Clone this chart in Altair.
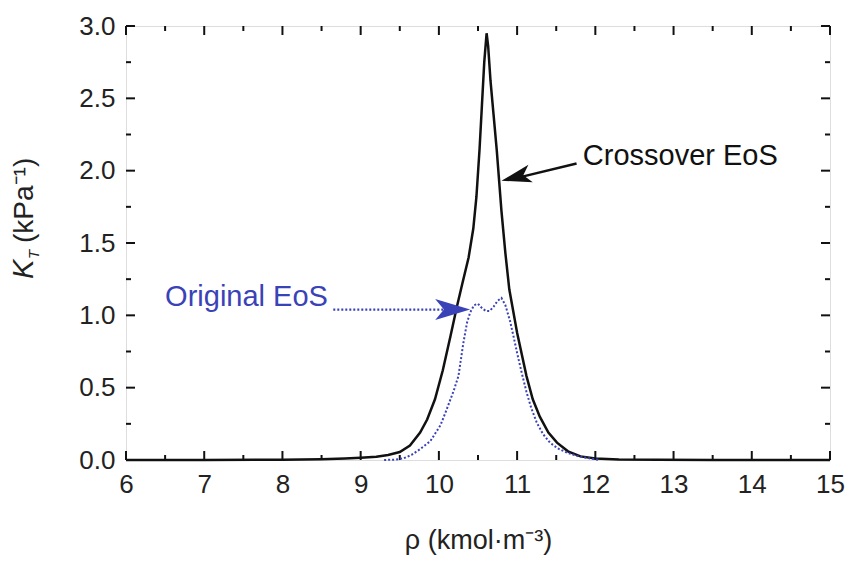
import altair as alt
import pandas as pd

# ---- data ----
crossover_rho = [6.0, 7.0, 8.0, 8.5, 8.8, 9.0, 9.2, 9.35, 9.5, 9.63, 9.76, 9.85, 9.95, 10.05, 10.15,
                 10.23, 10.30, 10.38, 10.44, 10.48, 10.52, 10.55, 10.58, 10.61, 10.63, 10.66, 10.70,
                 10.74, 10.80, 10.85, 10.90, 11.00, 11.12, 11.20, 11.29, 11.40, 11.51, 11.65, 11.81,
                 12.0, 12.3, 12.8, 13.5, 15.0]
crossover_kt = [0.0, 0.0, 0.002, 0.005, 0.01, 0.015, 0.022, 0.035, 0.055, 0.10, 0.19, 0.28, 0.42, 0.62,
                0.86, 1.06, 1.22, 1.40, 1.60, 1.82, 2.15, 2.45, 2.75, 2.95, 2.86, 2.62, 2.38, 2.14,
                1.72, 1.43, 1.18, 0.88, 0.58, 0.42, 0.30, 0.19, 0.12, 0.06, 0.025, 0.01, 0.004,
                0.001, 0.0, 0.0]

original_rho = [9.3, 9.45, 9.55, 9.65, 9.76, 9.89, 10.02, 10.10, 10.19, 10.25, 10.31, 10.36, 10.40,
                10.45, 10.50, 10.55, 10.60, 10.65, 10.70, 10.75, 10.80, 10.85, 10.91, 10.96, 11.00,
                11.06, 11.12, 11.18, 11.25, 11.33, 11.42, 11.52, 11.64, 11.76, 11.89, 12.05]
original_kt = [0.0, 0.003, 0.012, 0.035, 0.075, 0.13, 0.24, 0.35, 0.48, 0.58, 0.80, 0.95, 1.02,
               1.07, 1.08, 1.05, 1.03, 1.03, 1.06, 1.10, 1.12, 1.07, 0.96, 0.84, 0.74, 0.60, 0.47,
               0.36, 0.26, 0.18, 0.12, 0.08, 0.05, 0.03, 0.015, 0.0]

x_ticks = [6, 7, 8, 9, 10, 11, 12, 13, 14, 15]
x_minor = [6.5, 7.5, 8.5, 9.5, 10.5, 11.5, 12.5, 13.5, 14.5]
y_ticks = [0.0, 0.5, 1.0, 1.5, 2.0, 2.5, 3.0]
y_minor = [0.25, 0.75, 1.25, 1.75, 2.25, 2.75]

label_text = ["Crossover EoS", "Original EoS"]
label_rho = [11.84, 6.50]
label_kt = [2.10, 1.13]

# arrows: start point, end of shaft, tip
arrow_name = ["Crossover EoS", "Original EoS"]
arrow_rho_start = [11.76, 8.65]
arrow_kt_start = [2.05, 1.04]
arrow_rho_end = [11.00, 10.10]
arrow_kt_end = [1.95, 1.04]
arrow_rho_tip = [10.80, 10.40]
arrow_kt_tip = [1.93, 1.04]

BLACK = "#111111"
BLUE = "#3a42b8"
FONT = "Liberation Sans"
W, H = 704, 434

xs = alt.Scale(domain=[6, 15], nice=False, zero=False)
ys = alt.Scale(domain=[0, 3], nice=False, zero=False)

xaxis = alt.Axis(values=x_ticks, format="d", labelFontSize=26, labelPadding=11, labelFlush=False,
                 labelOverlap=False, ticks=False, tickSize=0, domain=False, grid=False,
                 labelColor="#222222", labelFont=FONT,
                 title="ρ (kmol·m⁻³)", titleFont=FONT, titleFontSize=27, titleFontWeight="normal",
                 titleColor="#222222", titleBaseline="middle", titleY=80)
yaxis = alt.Axis(values=y_ticks, format=".1f", labelFontSize=26, labelPadding=11, labelFlush=False,
                 labelOverlap=False, ticks=False, tickSize=0, domain=False, grid=False,
                 labelColor="#222222", labelFont=FONT, title=None)

cross_df = pd.DataFrame({"rho": crossover_rho, "kt": crossover_kt})
orig_df = pd.DataFrame({"rho": original_rho, "kt": original_kt})

cross = alt.Chart(cross_df).mark_line(color=BLACK, strokeWidth=2.5).encode(
    x=alt.X("rho:Q", scale=xs, axis=xaxis),
    y=alt.Y("kt:Q", scale=ys, axis=yaxis),
)
orig = alt.Chart(orig_df).mark_line(color=BLUE, strokeWidth=2, strokeDash=[2, 2]).encode(
    x=alt.X("rho:Q", scale=xs, axis=xaxis),
    y=alt.Y("kt:Q", scale=ys, axis=yaxis),
)

# ticks pointing inward on all four sides
xt = pd.DataFrame({"v": x_ticks})
xm = pd.DataFrame({"v": x_minor})
yt = pd.DataFrame({"v": y_ticks})
ym = pd.DataFrame({"v": y_minor})
tick_layers = []
for df, ln in [(xt, 9), (xm, 5)]:
    tick_layers.append(alt.Chart(df).mark_rule(color=BLACK, strokeWidth=2).encode(
        x=alt.X("v:Q", scale=xs, axis=xaxis), y=alt.value(H), y2=alt.value(H - ln)))
    tick_layers.append(alt.Chart(df).mark_rule(color=BLACK, strokeWidth=2).encode(
        x=alt.X("v:Q", scale=xs, axis=xaxis), y=alt.value(0), y2=alt.value(ln)))
for df, ln in [(yt, 9), (ym, 5)]:
    tick_layers.append(alt.Chart(df).mark_rule(color=BLACK, strokeWidth=2).encode(
        y=alt.Y("v:Q", scale=ys, axis=yaxis), x=alt.value(0), x2=alt.value(ln)))
    tick_layers.append(alt.Chart(df).mark_rule(color=BLACK, strokeWidth=2).encode(
        y=alt.Y("v:Q", scale=ys, axis=yaxis), x=alt.value(W), x2=alt.value(W - ln)))

lab_df = pd.DataFrame({"t": label_text, "rho": label_rho, "kt": label_kt})
labels = alt.Chart(lab_df).mark_text(align="left", baseline="middle", font=FONT, fontSize=29).encode(
    x=alt.X("rho:Q", scale=xs, axis=xaxis),
    y=alt.Y("kt:Q", scale=ys, axis=yaxis),
    text="t:N",
    color=alt.Color("t:N", scale=alt.Scale(domain=label_text, range=[BLACK, BLUE]), legend=None),
)

arr_df = pd.DataFrame({"name": arrow_name, "x1": arrow_rho_start, "y1": arrow_kt_start,
                       "x2": arrow_rho_end, "y2": arrow_kt_end,
                       "xt": arrow_rho_tip, "yt": arrow_kt_tip})
shaft_black = alt.Chart(arr_df[arr_df.name == "Crossover EoS"]).mark_rule(
    color=BLACK, strokeWidth=2.5).encode(
    x=alt.X("x1:Q", scale=xs, axis=xaxis), x2="x2:Q",
    y=alt.Y("y1:Q", scale=ys, axis=yaxis), y2="y2:Q")
shaft_blue = alt.Chart(arr_df[arr_df.name == "Original EoS"]).mark_rule(
    color=BLUE, strokeWidth=2.2, strokeDash=[2, 2]).encode(
    x=alt.X("x1:Q", scale=xs, axis=xaxis), x2="x2:Q",
    y=alt.Y("y1:Q", scale=ys, axis=yaxis), y2="y2:Q")

HEAD = "M 0 0 L 2 -0.6 L 1.5 0 L 2 0.6 Z"
head_black = alt.Chart(arr_df[arr_df.name == "Crossover EoS"]).mark_point(
    shape=HEAD, filled=True, size=900, angle=346, color=BLACK, opacity=1, strokeWidth=0).encode(
    x=alt.X("xt:Q", scale=xs, axis=xaxis), y=alt.Y("yt:Q", scale=ys, axis=yaxis))
head_blue = alt.Chart(arr_df[arr_df.name == "Original EoS"]).mark_point(
    shape=HEAD, filled=True, size=1225, angle=180, color=BLUE, opacity=1, strokeWidth=0).encode(
    x=alt.X("xt:Q", scale=xs, axis=xaxis), y=alt.Y("yt:Q", scale=ys, axis=yaxis))

# y-axis title made of pieces: italic K, subscript T, units
ytitle_k = alt.Chart(pd.DataFrame({"t": ["K"]})).mark_text(
    angle=270, align="left", baseline="alphabetic", font=FONT, fontSize=29, fontStyle="italic",
    color="#222222").encode(x=alt.value(-93), y=alt.value(253), text="t:N")
ytitle_t = alt.Chart(pd.DataFrame({"t": ["T"]})).mark_text(
    angle=270, align="left", baseline="alphabetic", font=FONT, fontSize=15, fontStyle="italic",
    color="#222222").encode(x=alt.value(-87), y=alt.value(233), text="t:N")
ytitle_u = alt.Chart(pd.DataFrame({"t": ["(kPa⁻¹)"]})).mark_text(
    angle=270, align="left", baseline="alphabetic", font=FONT, fontSize=28,
    color="#222222").encode(x=alt.value(-93), y=alt.value(217), text="t:N")

chart = alt.layer(
    *tick_layers, cross, orig, labels, shaft_black, shaft_blue, head_black, head_blue,
    ytitle_k, ytitle_t, ytitle_u,
).properties(
    width=W, height=H, autosize="none",
    padding={"left": 118, "top": 18, "right": 17, "bottom": 96},
).configure_view(stroke=BLACK, strokeWidth=2.5).configure(background="white")

chart.save("out.html", embed_options={"renderer": "svg", "actions": False})
